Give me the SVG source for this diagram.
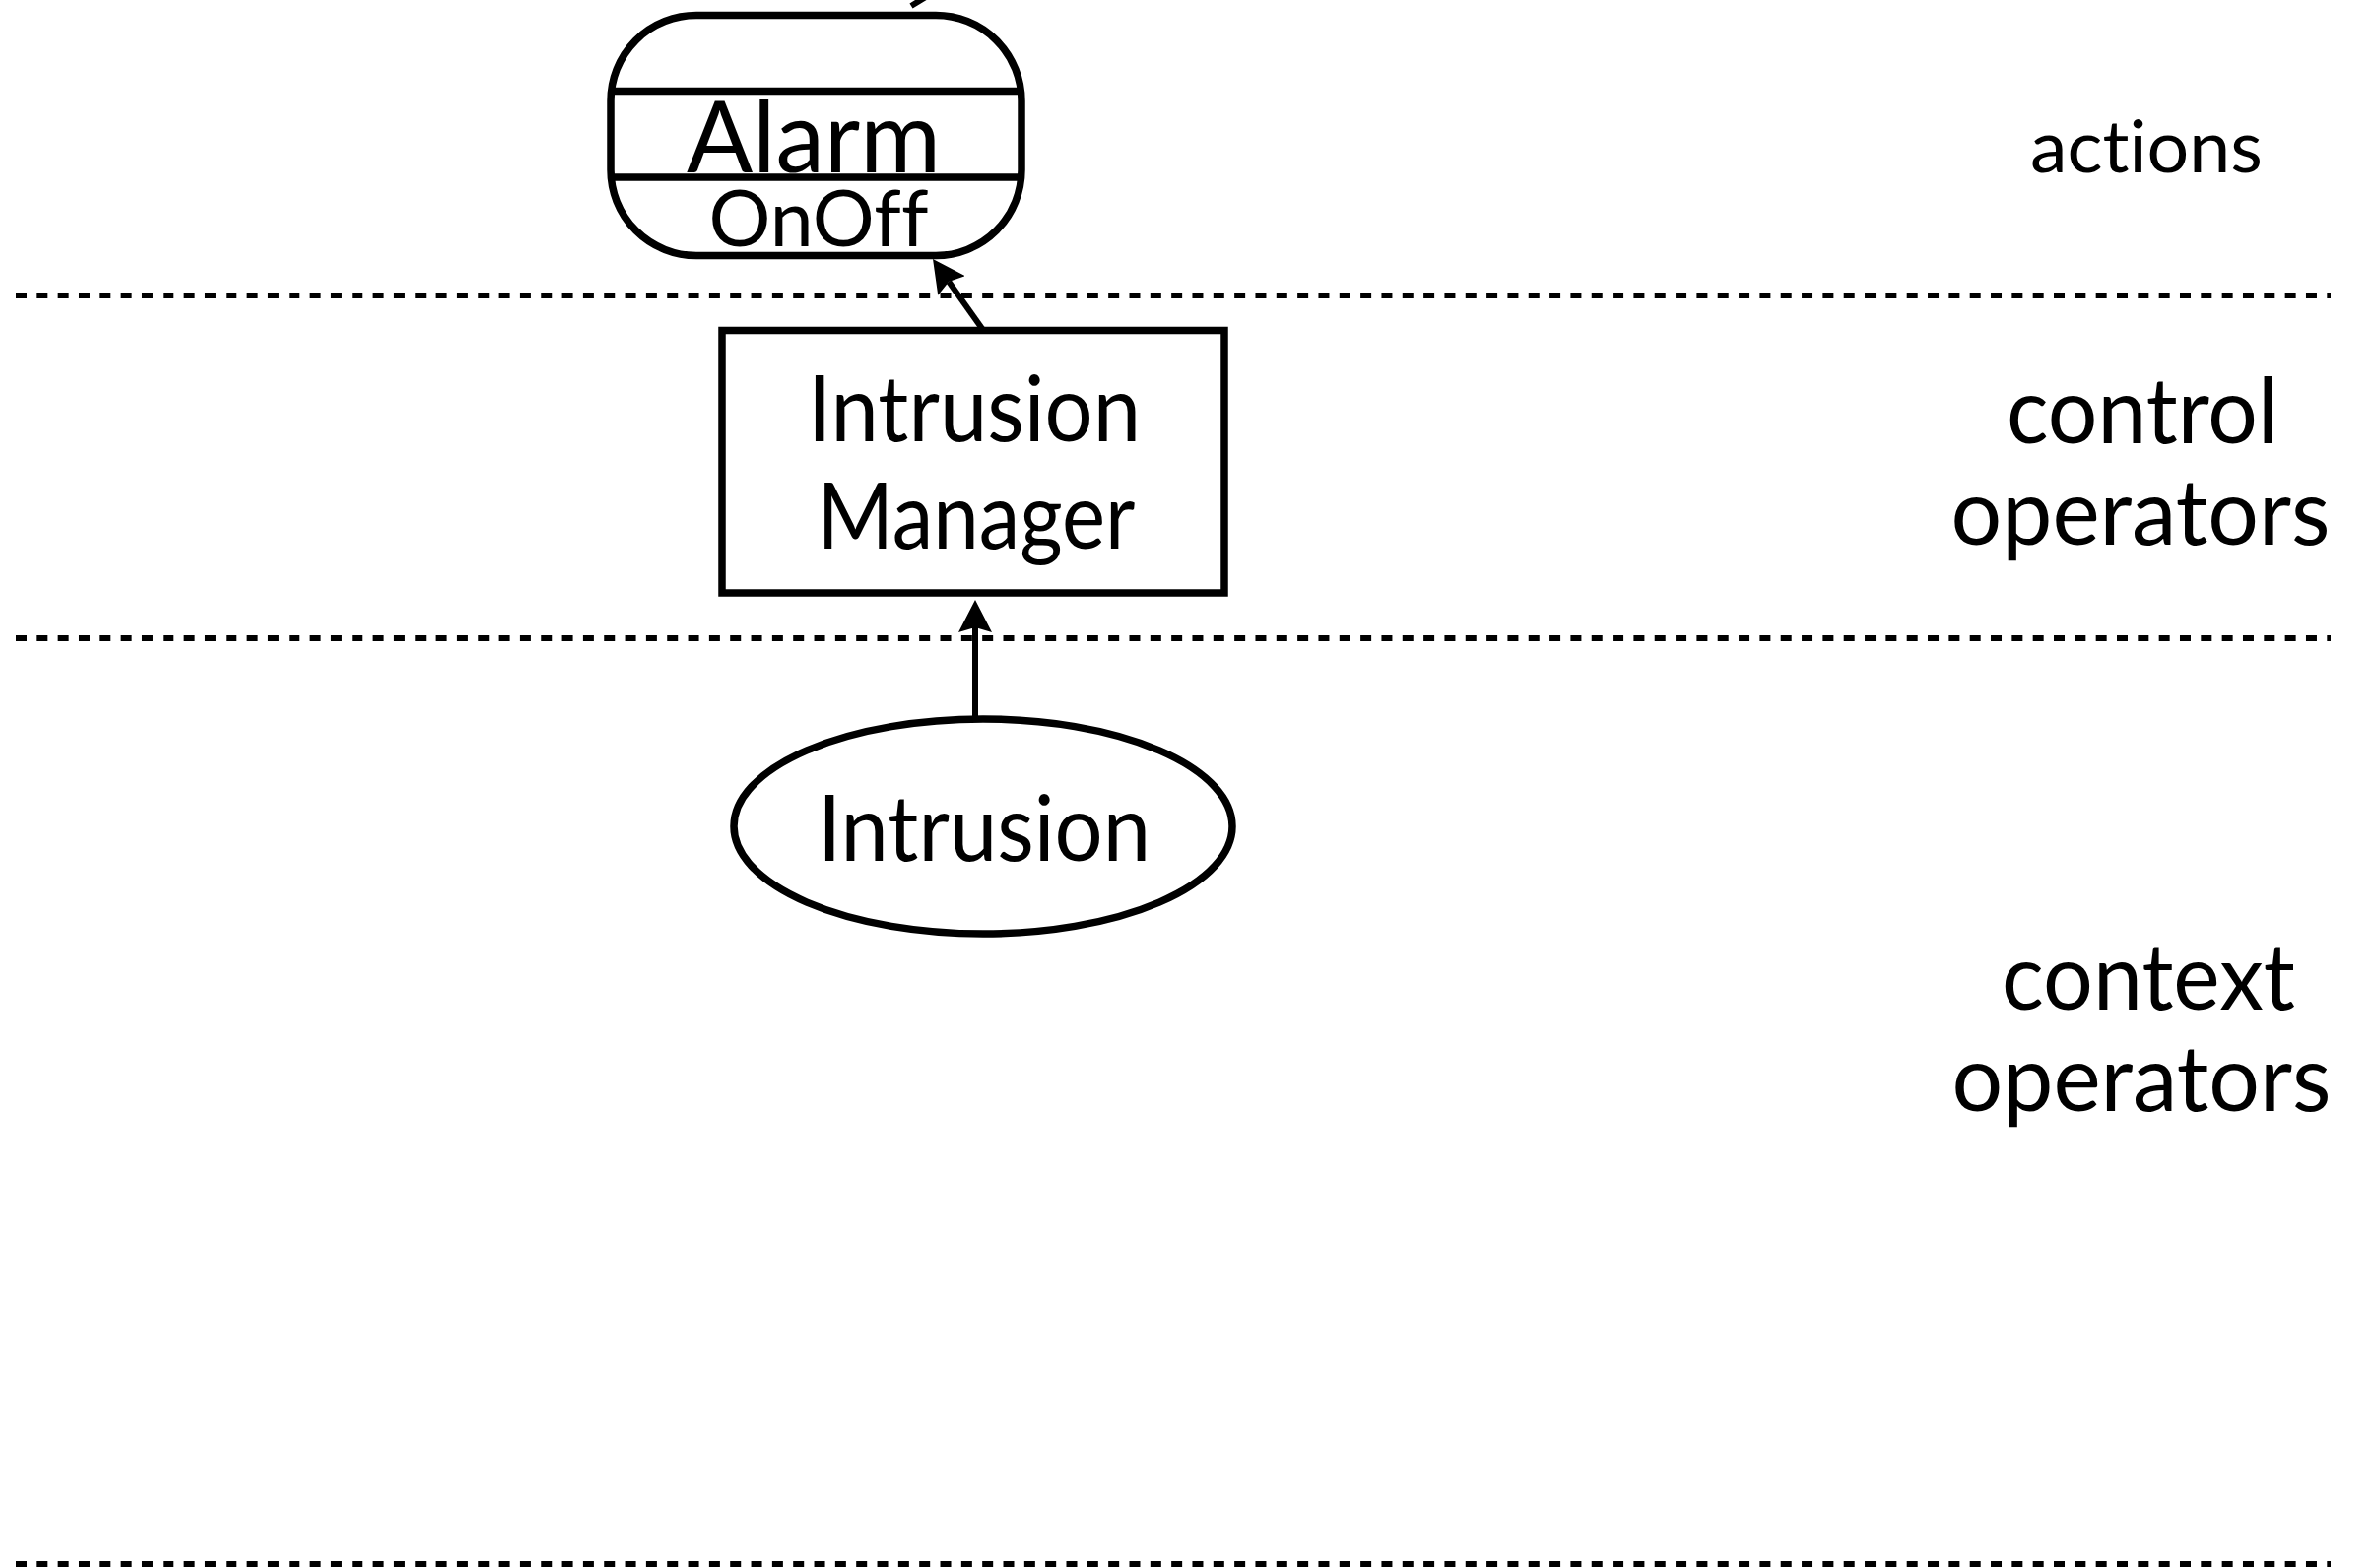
<svg xmlns="http://www.w3.org/2000/svg" width="2407" height="1592" viewBox="0 0 2407 1592">
<style>
.bg{fill:#ffffff}
.node{fill:none;stroke:#000;stroke-width:7.5}
.sep{stroke:#000;stroke-width:6;stroke-dasharray:11 10.33;fill:none}
.edge{stroke:#000;stroke-width:6;fill:none}
text{font-family:Lato,"Open Sans","Liberation Sans",sans-serif;fill:#000;text-anchor:middle;font-variant-ligatures:none;font-feature-settings:"liga" 0,"clig" 0}
.lbl{font-size:93px}
.side{font-size:93px}
</style>
<defs>
<marker id="arr" viewBox="0 -17 33 34" refX="5" refY="0" markerWidth="33" markerHeight="34" markerUnits="userSpaceOnUse" orient="auto">
<path d="M33,0 L0,-17 L5,0 L0,17 Z" fill="#000"/>
</marker>
</defs>
<rect class="bg" x="0" y="0" width="2407" height="1592"/>
<g id="separators">
<line class="sep" x1="16" y1="300" x2="2366" y2="300"/>
<line class="sep" x1="16" y1="648" x2="2366" y2="648"/>
<line class="sep" x1="16" y1="1588" x2="2366" y2="1588"/>
</g>
<g id="fragment">
<path class="edge" d="M925,6 L943,-5" stroke-width="7"/>
</g>
<g id="node-alarm">
<rect class="node" x="620" y="15.5" width="417" height="244" rx="87" ry="87"/>
<line class="node" x1="622" y1="92.5" x2="1035" y2="92.5"/>
<line class="node" x1="622" y1="180" x2="1035" y2="180"/>
<text x="826" y="175" font-size="100" textLength="258" lengthAdjust="spacingAndGlyphs">Alarm</text>
<text x="831" y="250" font-size="80" textLength="223" lengthAdjust="spacingAndGlyphs">OnOff</text>
</g>
<g id="node-intrusion-manager">
<rect class="node" x="733" y="335.5" width="510" height="266.5"/>
<text class="lbl" x="989" y="448" textLength="338" lengthAdjust="spacingAndGlyphs">Intrusion</text>
<text class="lbl" x="991" y="557" textLength="323" lengthAdjust="spacingAndGlyphs">Manager</text>
</g>
<g id="node-intrusion">
<ellipse class="node" cx="998" cy="839" rx="253" ry="109"/>
<text class="lbl" x="999" y="874" textLength="338" lengthAdjust="spacingAndGlyphs">Intrusion</text>
</g>
<g id="connectors">
<line class="edge" x1="990" y1="728" x2="990" y2="637" marker-end="url(#arr)"/>
<line class="edge" x1="998" y1="335" x2="963.2" y2="285.9" marker-end="url(#arr)"/>
</g>
<g id="layer-labels">
<text x="2179" y="175" font-size="74" textLength="236" lengthAdjust="spacingAndGlyphs">actions</text>
<text class="side" x="2175" y="450" textLength="276" lengthAdjust="spacingAndGlyphs">control</text>
<text class="side" x="2173" y="553" textLength="385" lengthAdjust="spacingAndGlyphs">operators</text>
<text class="side" x="2181" y="1025" textLength="298" lengthAdjust="spacingAndGlyphs">context</text>
<text class="side" x="2174" y="1128" textLength="385" lengthAdjust="spacingAndGlyphs">operators</text>
</g>
</svg>
